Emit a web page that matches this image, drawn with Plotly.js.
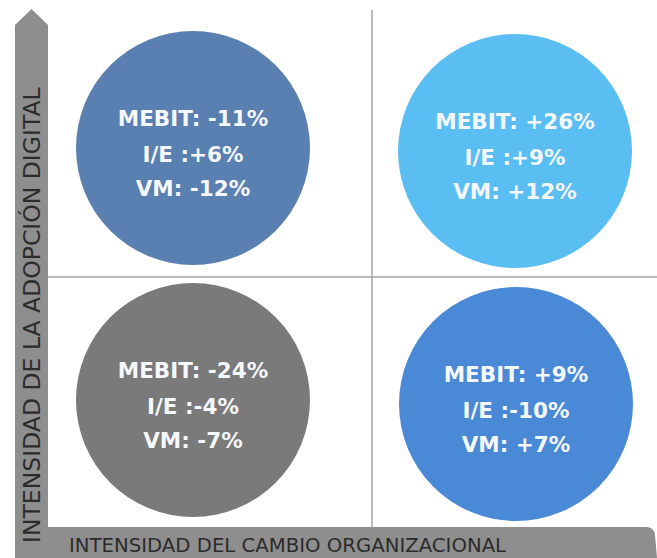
<!DOCTYPE html>
<html>
<head>
<meta charset="utf-8">
<script src="https://cdn.plot.ly/plotly-3.0.1.min.js"></script>
<style>html,body{margin:0;padding:0;background:#fff;}#chart{width:657px;height:558px;}</style>
</head>
<body>
<div id="chart"></div>
<script>
// ---- data ----
const quadrants = ["Alta adopción digital / bajo cambio organizacional", "Alta adopción digital / alto cambio organizacional", "Baja adopción digital / bajo cambio organizacional", "Baja adopción digital / alto cambio organizacional"];
const mebit = ["-11%", "+26%", "-24%", "+9%"];
const ie    = ["+6%",  "+9%",  "-4%",  "-10%"];
const vm    = ["-12%", "+12%", "-7%",  "+7%"];
const xAxisLabel = "INTENSIDAD DEL CAMBIO ORGANIZACIONAL";
const yAxisLabel = "INTENSIDAD DE LA ADOPCIÓN DIGITAL";

// ---- layout (positions / styles) ----
const W = 657, H = 558;
const centersX = [193, 515, 193, 516];
const centersY = [148, 151, 400, 404];
const colors = ["#5a7fb1", "#5bbef2", "#7a7a7a", "#4a89d6"];
const diam = 234;
const barGray = "#8e8e8e";
const lineOffsets = [-27, 9, 43];
const textFont = {family: "DejaVu Sans", size: 21.5, color: "#f4f7fb", weight: "bold"};

const circles = {
  type: "scatter",
  mode: "markers",
  x: centersX,
  y: centersY,
  hovertext: quadrants,
  marker: {size: diam, color: colors, line: {width: 0}, opacity: 1},
  cliponaxis: false,
  showlegend: false
};

const lineTexts = [
  mebit.map(v => "MEBIT: " + v),
  ie.map(v => "I/E :" + v),
  vm.map(v => "VM: " + v)
];

const textTraces = lineTexts.map((txt, k) => ({
  type: "scatter",
  mode: "text",
  x: centersX,
  y: centersY.map(c => c + lineOffsets[k]),
  text: txt,
  textposition: "middle center",
  textfont: textFont,
  cliponaxis: false,
  showlegend: false,
  hoverinfo: "skip"
}));

const shapes = [
  {type: "line", xref: "x", yref: "y", x0: 372, x1: 372, y0: 10, y1: 527, line: {color: "#a5a5a5", width: 1.5}, layer: "below"},
  {type: "line", xref: "x", yref: "y", x0: 47, x1: 657, y0: 277, y1: 277, line: {color: "#a5a5a5", width: 1.5}, layer: "below"},
  {type: "path", xref: "x", yref: "y", path: "M15,558 L15,25 L31.5,9 L48,25 L48,558 Z", fillcolor: barGray, line: {width: 0}, layer: "above"},
  {type: "path", xref: "x", yref: "y", path: "M47,527 L646,527 Q654,527 655,535 L657,558 L47,558 Z", fillcolor: barGray, line: {width: 0}, layer: "above"}
];

const annotations = [
  {xref: "x", yref: "y", x: 67, y: 545, xanchor: "left", yanchor: "middle", text: xAxisLabel, showarrow: false,
   font: {family: "DejaVu Sans", size: 19.7, color: "#2b2b2b"}},
  {xref: "x", yref: "y", x: 32, y: 315, xanchor: "center", yanchor: "middle", textangle: -90, text: yAxisLabel, showarrow: false,
   font: {family: "DejaVu Sans", size: 23.5, color: "#2b2b2b"}}
];

const layout = {
  width: W, height: H,
  margin: {l: 0, r: 0, t: 0, b: 0, pad: 0},
  paper_bgcolor: "#ffffff", plot_bgcolor: "#ffffff",
  xaxis: {range: [0, W], visible: false, fixedrange: true},
  yaxis: {range: [H, 0], visible: false, fixedrange: true},
  shapes: shapes,
  annotations: annotations,
  showlegend: false
};

Plotly.newPlot("chart", [circles].concat(textTraces), layout, {displayModeBar: false, staticPlot: true});
</script>
</body>
</html>
